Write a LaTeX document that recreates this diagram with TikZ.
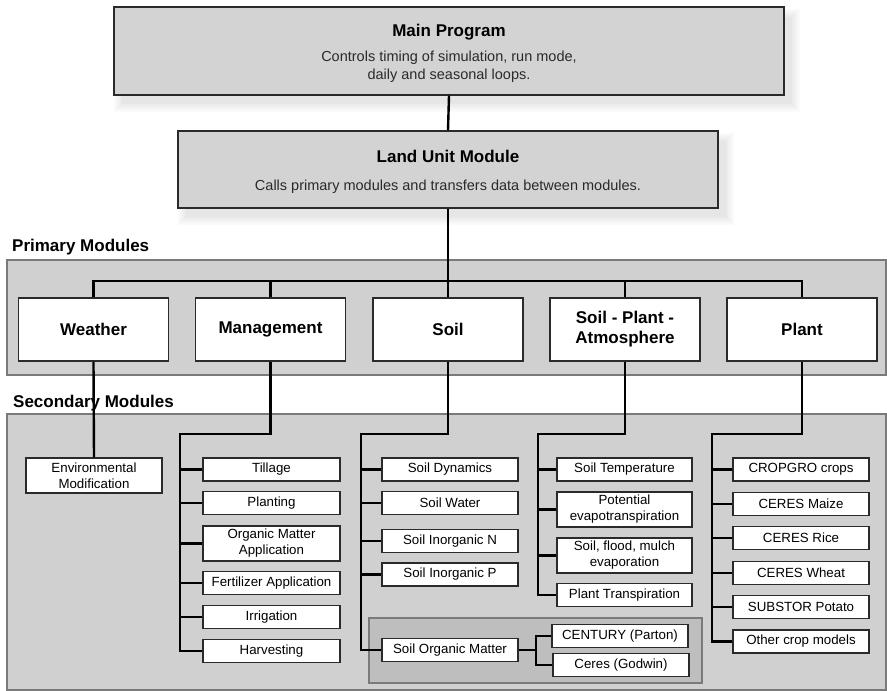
\documentclass[tikz,border=0pt]{standalone}
\usepackage{fontspec}
\setmainfont{Liberation Sans}
\definecolor{boxgray}{HTML}{D3D3D3}
\definecolor{bandgray}{HTML}{D0D0D0}
\definecolor{panelgray}{HTML}{BEBEBE}
\definecolor{edgegray}{HTML}{7A7A7A}
\definecolor{inkgray}{HTML}{2A2A2A}
\newcommand{\ttlfont}{\fontsize{17}{20}\selectfont\bfseries}
\newcommand{\subfont}{\fontsize{14.5}{18}\selectfont}
\newcommand{\secfont}{\fontsize{13.3}{16}\selectfont}
\tikzset{
  topbox/.style={draw=inkgray, line width=1.5pt, fill=boxgray, inner sep=0pt},
  softshadow/.style={fill=black, opacity=0.018},
  ttl/.style={font=\ttlfont, inner sep=0pt, text=black},
  subttl/.style={font=\subfont, inner sep=0pt, align=center, text=inkgray},
  pbox/.style={draw=inkgray, line width=1.5pt, fill=white, minimum width=150pt,
    minimum height=63pt, inner sep=0pt, align=center, font=\ttlfont},
  sbox/.style={draw=inkgray, line width=1.4pt, fill=white, minimum width=136pt,
    minimum height=23pt, inner sep=0pt, align=center, font=\secfont},
  tall/.style={minimum height=35pt},
  grplabel/.style={font=\ttlfont, inner sep=0pt, anchor=west},
  conn/.style={draw=black, line width=2.4pt, line join=miter},
  thinconn/.style={draw=black, line width=1.6pt},
  band/.style={draw=edgegray, line width=1.2pt, fill=bandgray},
}
\begin{document}
\begin{tikzpicture}[x=1pt, y=-1pt]
\useasboundingbox (0,0) rectangle (887,691);
\fill[white] (0,0) rectangle (887,691);

% soft shadows of the two top boxes
\foreach \e in {0,2,4,6,8} {
  \fill[softshadow] (122-\e,17-\e) rectangle (792+\e,104+\e);
  \fill[softshadow] (186-\e,141-\e) rectangle (726+\e,217+\e);
}

% bands
\path[band] (7,260) rectangle (886,375);
\path[band] (7,414) rectangle (886,690);
\path[draw=edgegray, line width=1.2pt, fill=panelgray] (369,618) rectangle (702,683);

% top boxes
\node[topbox, minimum width=670pt, minimum height=88pt] (main) at (449,51) {};
\node[ttl] (mainT) at (449,32) {Main Program};
\node[subttl] (mainS) at (449,67) {Controls timing of simulation, run mode,\\daily and seasonal loops.};

\node[topbox, minimum width=540pt, minimum height=77pt] (land) at (448,169.5) {};
\node[ttl] (landT) at (448,156) {Land Unit Module};
\node[subttl] (landS) at (448,187) {Calls primary modules and transfers data between modules.};

% group labels
\node[grplabel] (plab) at (12,247) {Primary Modules};
\node[grplabel] (slab) at (13,403) {Secondary Modules};

% primary modules
\node[pbox] (weather) at (93.5,329.5) {Weather};
\node[pbox] (mgmt) at (270.5,329.5) {Management};
\node[pbox] (soil) at (448,329.5) {Soil};
\node[pbox] (spa) at (625,329.5) {Soil - Plant -\\Atmosphere};
\node[pbox] (plant) at (802,329.5) {Plant};

% secondary: weather
\node[sbox, tall] (env) at (94,475.5) {Environmental\\Modification};

% secondary: management
\node[sbox, minimum width=137pt] (till) at (271.5,469.5) {Tillage};
\node[sbox, minimum width=137pt] (plnt) at (271.5,503) {Planting};
\node[sbox, minimum width=137pt, tall] (oma) at (271.5,543.5) {Organic Matter\\Application};
\node[sbox, minimum width=137pt] (fert) at (271.5,583) {Fertilizer Application};
\node[sbox, minimum width=137pt] (irr) at (271.5,617) {Irrigation};
\node[sbox, minimum width=137pt] (harv) at (271.5,651) {Harvesting};

% secondary: soil
\node[sbox] (sdyn) at (450,469.5) {Soil Dynamics};
\node[sbox] (swat) at (450,503) {Soil Water};
\node[sbox] (sinn) at (450,541) {Soil Inorganic N};
\node[sbox] (sinp) at (450,574.5) {Soil Inorganic P};
\node[sbox] (som) at (450,650) {Soil Organic Matter};
\node[sbox] (cent) at (620,636) {CENTURY (Parton)};
\node[sbox] (ceres) at (621,665) {Ceres (Godwin)};

% secondary: soil-plant-atmosphere
\node[sbox, minimum width=135pt] (stemp) at (624.5,469.5) {Soil Temperature};
\node[sbox, minimum width=135pt, tall] (pet) at (624.5,509.5) {Potential\\evapotranspiration};
\node[sbox, minimum width=135pt, tall] (sfm) at (624.5,555.5) {Soil, flood, mulch\\evaporation};
\node[sbox, minimum width=135pt] (ptr) at (624.5,595) {Plant Transpiration};

% secondary: plant
\node[sbox] (cgro) at (801,469.5) {CROPGRO crops};
\node[sbox] (maize) at (801,504) {CERES Maize};
\node[sbox] (rice) at (801,538) {CERES Rice};
\node[sbox] (wheat) at (801,573) {CERES Wheat};
\node[sbox] (potato) at (801,607) {SUBSTOR Potato};
\node[sbox] (other) at (801,641.5) {Other crop models};

% connectors: top
\draw[conn] (main.south) -- (land.north);
\coordinate (bus) at (448,281);
\draw[conn] (land.south) -- (soil.north);
\draw[conn] (weather.north) |- (bus) -| (plant.north);
\draw[conn] (mgmt.north) -- (mgmt.north |- bus);
\draw[conn] (spa.north) -- (spa.north |- bus);

% connectors: secondary
\draw[conn] (weather.south) -- (env.north);

\coordinate (mj) at (180,434);
\draw[conn] (mgmt.south) |- (mj) |- (harv.west);
\foreach \n in {till,plnt,oma,fert,irr} \draw[conn] (mj |- \n.west) -- (\n.west);

\coordinate (sj) at (361,434);
\draw[conn] (soil.south) |- (sj) |- (som.west);
\foreach \n in {sdyn,swat,sinn,sinp} \draw[conn] (sj |- \n.west) -- (\n.west);

\coordinate (omj) at (536,650);
\draw[thinconn] (som.east) -- (omj);
\draw[thinconn] (cent.west) -| (omj) |- (ceres.west);

\coordinate (aj) at (538,434);
\draw[conn] (spa.south) |- (aj) |- (ptr.west);
\foreach \n in {stemp,pet,sfm} \draw[conn] (aj |- \n.west) -- (\n.west);

\coordinate (pj) at (712,434);
\draw[conn] (plant.south) |- (pj) |- (other.west);
\foreach \n in {cgro,maize,rice,wheat,potato} \draw[conn] (pj |- \n.west) -- (\n.west);
\end{tikzpicture}
\end{document}
